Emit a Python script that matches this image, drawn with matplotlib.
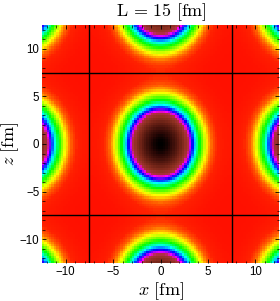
import numpy as np
import matplotlib
matplotlib.use("Agg")
import matplotlib.pyplot as plt
from matplotlib.colors import LinearSegmentedColormap

# ---- data / model parameters ----
L = 15.0                      # box size [fm]
half_extent = 12.5            # plotted range [-12.5, 12.5]
blob_sigma_x = 2.5            # gaussian width along x [fm]
blob_elong_z = 1.12           # elongation along z
image_shifts = [-2, -1, 0, 1, 2]
cell_lines = [-7.5, 7.5]
tick_vals = [-10, -5, 0, 5, 10]
n_grid = 100

# colormap nodes (value, colour): low density red -> rainbow -> dark brown -> black
cmap_nodes = [
    (0.00, "#ff1000"),
    (0.05, "#ff2200"),
    (0.09, "#ff6000"),
    (0.12, "#ffb000"),
    (0.15, "#ffff00"),
    (0.244, "#00ff00"),
    (0.325, "#00ffff"),
    (0.397, "#0000ff"),
    (0.463, "#ff00ff"),
    (0.50, "#b03045"),
    (0.58, "#903222"),
    (0.75, "#5e1c12"),
    (0.92, "#2a0806"),
    (1.00, "#000000"),
]

# ---- build field ----
xs = np.linspace(-half_extent, half_extent, n_grid)
zs = np.linspace(-half_extent, half_extent, n_grid)
X, Z = np.meshgrid(xs, zs)
rho = np.zeros_like(X)
for i in image_shifts:
    for j in image_shifts:
        dx = X - i * L
        dz = (Z - j * L) / blob_elong_z
        rho += np.exp(-(dx**2 + dz**2) / (2 * blob_sigma_x**2))
rho = np.clip(rho, 0, 1)

cmap = LinearSegmentedColormap.from_list("dens", cmap_nodes)

plt.rcParams["mathtext.fontset"] = "cm"
fig = plt.figure(figsize=(2.80, 3.01), dpi=100)
ax = fig.add_axes([42/280, (301-263)/301, 237/280, 238/301])
ax.imshow(rho, origin="lower", extent=[-half_extent, half_extent, -half_extent, half_extent],
          cmap=cmap, vmin=0, vmax=1, interpolation="nearest", aspect="auto")
for c in cell_lines:
    ax.axvline(c, color="black", lw=1.0)
    ax.axhline(c, color="black", lw=1.0)

ax.set_xlim(-half_extent, half_extent)
ax.set_ylim(-half_extent, half_extent)
ax.set_xticks(tick_vals)
ax.set_yticks(tick_vals)
ax.set_xticks(np.arange(-12, 13, 1), minor=True)
ax.set_yticks(np.arange(-12, 13, 1), minor=True)
ax.tick_params(which="both", direction="in", top=True, right=True, colors="black")
ax.tick_params(which="major", length=3, width=0.6, pad=2.0)
ax.tick_params(which="minor", length=1.8, width=0.5)
for lab in ax.get_xticklabels() + ax.get_yticklabels():
    lab.set_fontfamily("Liberation Sans")
    lab.set_fontsize(8.3)
for s in ax.spines.values():
    s.set_visible(False)

fig.text(161/280, 1 - 12/301, r"$\mathrm{L}\,=\,15\ [\mathrm{fm}]$", ha="center", va="center", fontsize=13)
fig.text(161/280, 1 - 291/301, r"$x\ [\mathrm{fm}]$", ha="center", va="center", fontsize=13)
fig.text(10/280, 1 - 144/301, r"$z\ [\mathrm{fm}]$", ha="center", va="center", fontsize=13, rotation=90)

fig.savefig("out.png", dpi=100)
